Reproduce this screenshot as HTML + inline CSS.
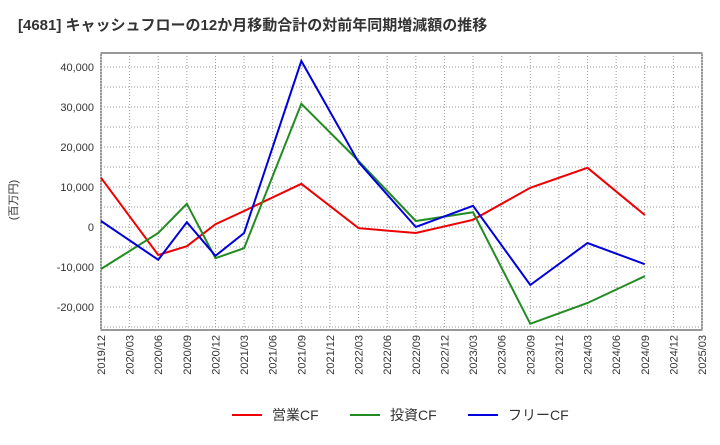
<!DOCTYPE html>
<html><head><meta charset="utf-8"><style>
body{margin:0;background:#fff;font-family:"Liberation Sans","Noto Sans CJK JP",sans-serif;}
</style></head><body>
<svg width="720" height="440" xmlns="http://www.w3.org/2000/svg" id="chart">
<text x="18" y="30" font-size="15" font-weight="bold" fill="#333" font-family="Liberation Sans, Noto Sans CJK JP, sans-serif">[4681]  キャッシュフローの12か月移動合計の対前年同期増減額の推移</text>
<rect x="101" y="53" width="601" height="277" fill="#fff" stroke="#333"/>
<g id="grid"></g><g id="ylabels"></g><g id="xlabels"></g><g id="series"></g>
<text transform="translate(17,200) rotate(-90)" font-size="11" text-anchor="middle" fill="#333">(百万円)</text>
<g font-size="14" fill="#333">
<line x1="232" y1="415" x2="262" y2="415" stroke="#e00" stroke-width="2"/><text x="272" y="420">営業CF</text>
<line x1="350" y1="415" x2="380" y2="415" stroke="#228b22" stroke-width="2"/><text x="390" y="420">投資CF</text>
<line x1="468" y1="415" x2="498" y2="415" stroke="#00d" stroke-width="2"/><text x="508" y="420">フリーCF</text>
</g>
</svg>
<script>
const xTicks=["2019/12","2020/03","2020/06","2020/09","2020/12","2021/03","2021/06","2021/09","2021/12","2022/03","2022/06","2022/09","2022/12","2023/03","2023/06","2023/09","2023/12","2024/03","2024/06","2024/09","2024/12","2025/03"];
const yTicks=[-20000,-10000,0,10000,20000,30000,40000];
const dates=["2019/12","2020/06","2020/09","2020/12","2021/03","2021/09","2022/03","2022/09","2023/03","2023/09","2024/03","2024/09"];
const operating=[12300,-7000,-4800,700,4000,10800,-300,-1500,1800,9800,14800,3000];
const investing=[-10500,-1500,5800,-7800,-5300,30800,16500,1500,3700,-24200,-19000,-12300];
const free=[1500,-8200,1200,-7200,-1500,41500,16200,0,5300,-14500,-4000,-9300];
const NS="http://www.w3.org/2000/svg";
const X0=101,X1=702;
function xs(d){return X0+xTicks.indexOf(d)*(X1-X0)/(xTicks.length-1);}
function ys(v){return 227-v*0.004;}
const grid=document.getElementById('grid'),yl=document.getElementById('ylabels'),xl=document.getElementById('xlabels'),ser=document.getElementById('series');
for(let v=-25000;v<=43000;v+=5000){const l=document.createElementNS(NS,'line');


l.setAttribute('x1',X0);l.setAttribute('x2',X1);l.setAttribute('y1',ys(v));l.setAttribute('y2',ys(v));l.setAttribute('stroke','#999');l.setAttribute('stroke-dasharray','1,2');grid.appendChild(l);}
xTicks.forEach(d=>{const x=xs(d);
const l=document.createElementNS(NS,'line');


l.setAttribute('x1',x);l.setAttribute('x2',x);l.setAttribute('y1',53);l.setAttribute('y2',330);l.setAttribute('stroke','#999');l.setAttribute('stroke-dasharray','1,2');grid.appendChild(l);
const t=document.createElementNS(NS,'text');


t.setAttribute('transform',`translate(${x+4},335) rotate(-90)`);t.setAttribute('text-anchor','end');t.setAttribute('font-size','11');t.setAttribute('fill','#333');t.textContent=d;xl.appendChild(t);});
yTicks.forEach(v=>{const t=document.createElementNS(NS,'text');


t.setAttribute('x',94);t.setAttribute('y',ys(v)+4);t.setAttribute('text-anchor','end');t.setAttribute('font-size','11');t.setAttribute('fill','#333');t.textContent=v.toLocaleString('en-US');yl.appendChild(t);});
function line(arr,col,name){const p=document.createElementNS(NS,'polyline');


p.setAttribute('points',arr.map((v,i)=>xs(dates[i])+','+ys(v)).join(' '));p.setAttribute('fill','none');p.setAttribute('stroke',col);p.setAttribute('stroke-width','2');ser.appendChild(p);}
line(operating,'#e00','operating-cf-line');
line(investing,'#228b22','investing-cf-line');
line(free,'#00d','free-cf-line');
</script>
</body></html>
